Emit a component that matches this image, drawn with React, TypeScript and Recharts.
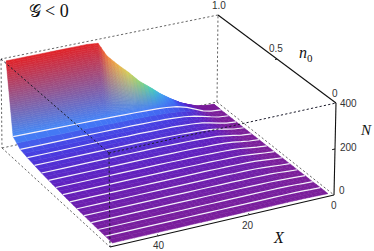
import React from "react";
import { ComposedChart, XAxis, YAxis, Line, Scatter } from "recharts";

const xValues = [1.5, 4, 6, 8, 10, 12.5, 15, 17, 20, 22.5, 25, 27.5, 29.5, 32, 36, 40, 45, 49.5];
const n0Values = [0, 0.0655, 0.131, 0.1965, 0.262, 0.3275, 0.393, 0.4585, 0.524, 0.5895, 0.655, 0.7205, 0.786, 0.8515, 0.917, 0.975];
const surfaceN = [
  [12, 13, 14, 15, 15, 15, 15, 15, 15, 15, 15, 15, 15, 15, 15, 15, 15, 15],
  [12, 13, 15, 16, 16, 16, 16, 16, 16, 16, 16, 16, 16, 16, 16, 16, 16, 16],
  [11, 13, 15, 16, 17, 17, 17, 17, 17, 17, 17, 17, 17, 17, 17, 17, 17, 17],
  [11, 13, 15, 17, 18, 18, 19, 19, 19, 19, 19, 19, 19, 19, 19, 19, 19, 19],
  [10, 13, 16, 18, 19, 20, 20, 21, 21, 21, 21, 21, 21, 21, 21, 21, 21, 21],
  [10, 13, 16, 19, 21, 22, 22, 23, 23, 23, 23, 23, 23, 23, 23, 23, 23, 23],
  [9, 13, 17, 20, 22, 23, 24, 24, 25, 25, 25, 25, 25, 25, 25, 25, 25, 25],
  [9, 13, 17, 21, 24, 25, 26, 27, 27, 28, 28, 28, 28, 28, 28, 28, 28, 28],
  [8, 12, 17, 22, 25, 27, 28, 29, 30, 30, 31, 31, 31, 31, 31, 31, 31, 31],
  [8, 12, 17, 23, 27, 29, 30, 32, 33, 33, 34, 34, 34, 34, 34, 34, 34, 34],
  [7, 11, 18, 24, 29, 32, 34, 35, 36, 37, 38, 38, 38, 38, 38, 38, 38, 38],
  [7, 11, 18, 26, 32, 36, 38, 40, 41, 42, 42, 43, 43, 43, 43, 43, 43, 43],
  [6, 10, 18, 27, 35, 40, 43, 45, 46, 47, 48, 48, 49, 49, 49, 49, 49, 49],
  [6, 10, 19, 29, 38, 45, 49, 51, 53, 54, 55, 55, 56, 56, 57, 57, 57, 57],
  [5, 9, 18, 34, 50, 63, 69, 72, 74, 76, 77, 78, 79, 80, 81, 82, 84, 85],
  [5, 9, 16, 30, 46, 75, 108, 140, 185, 235, 280, 330, 395, 400, 400, 400, 400, 400],
];
const colorStops: [number, number[]][] = [
  [0, [125, 30, 150]],
  [15, [122, 30, 155]],
  [30, [98, 32, 190]],
  [50, [70, 60, 225]],
  [75, [66, 125, 250]],
  [100, [70, 160, 245]],
  [140, [70, 205, 190]],
  [190, [150, 210, 110]],
  [250, [230, 205, 80]],
  [320, [240, 140, 60]],
  [400, [225, 35, 40]],
];
const xTicks = [20, 40];
const nTicks = [200];
const n0Ticks = [0.5];

type P3 = [number, number, number];
const boxBack: [P3, P3][] = [
  [[50, 1, 0], [0, 1, 0]],
  [[0, 1, 0], [0, 1, 400]],
  [[0, 1, 400], [50, 1, 400]],
  [[50, 1, 400], [50, 1, 0]],
  [[0, 1, 0], [0, 0, 0]],
  [[50, 1, 0], [50, 0, 0]],
];
const boxFront: [P3, P3][] = [
  [[50, 1, 400], [50, 0, 400]],
  [[50, 0, 400], [0, 0, 400]],
  [[50, 0, 400], [50, 0, 0]],
];
const axesSolid: [P3, P3][] = [
  [[0, 0, 0], [50, 0, 0]],
  [[0, 0, 0], [0, 0, 400]],
  [[0, 0, 400], [0, 1, 400]],
];

const corners: Record<string, number[]> = {
  "000": [334, 195],
  "100": [110, 247],
  "010": [217, 102],
  "110": [2, 148],
  "001": [336, 103],
  "101": [109, 153],
  "011": [218, 15],
  "111": [1, 59],
};

function project(X: number, n0: number, N: number) {
  const w = X / 50;
  const u = 0.9 * w + 0.1 * w * w;
  const v = n0;
  const h = N / 400;
  let sx = 0;
  let sy = 0;
  for (const a of [0, 1]) for (const b of [0, 1]) for (const c of [0, 1]) {
    const k = (a ? u : 1 - u) * (b ? v : 1 - v) * (c ? h : 1 - h);
    const p = corners[`${a}${b}${c}`];
    sx += k * p[0];
    sy += k * p[1];
  }
  return { sx, sy };
}

function colorOf(N: number): number[] {
  for (let i = 1; i < colorStops.length; i++) {
    const [n1, c1] = colorStops[i];
    const [n0, c0] = colorStops[i - 1];
    if (N <= n1) {
      const t = (N - n0) / (n1 - n0);
      return c0.map((c, k) => c + (c1[k] - c) * t);
    }
  }
  return colorStops[colorStops.length - 1][1];
}

const cells: any[] = [];
for (let j = 0; j < n0Values.length - 1; j++) {
  for (let i = 0; i < xValues.length - 1; i++) {
    const a = project(xValues[i], n0Values[j], surfaceN[j][i]);
    const b = project(xValues[i + 1], n0Values[j], surfaceN[j][i + 1]);
    const c = project(xValues[i + 1], n0Values[j + 1], surfaceN[j + 1][i + 1]);
    const d = project(xValues[i], n0Values[j + 1], surfaceN[j + 1][i]);
    cells.push({
      sx: a.sx,
      sy: a.sy,
      quad: [a, b, c, d],
      cols: [surfaceN[j][i], surfaceN[j][i + 1], surfaceN[j + 1][i + 1], surfaceN[j + 1][i]].map(colorOf),
      ny: j === n0Values.length - 2 ? 36 : 2,
      nx: j === n0Values.length - 2 ? 3 : 2,
    });
  }
}

const bil = (a: number, b: number, c: number, d: number, s: number, t: number) =>
  (1 - t) * ((1 - s) * a + s * b) + t * ((1 - s) * d + s * c);

function CellShape(props: any) {
  const { cx, cy, payload } = props;
  const { quad, cols, nx, ny } = payload;
  const ox = cx - quad[0].sx;
  const oy = cy - quad[0].sy;
  const out: React.ReactNode[] = [];
  const pt = (s: number, t: number) =>
    `${(bil(quad[0].sx, quad[1].sx, quad[2].sx, quad[3].sx, s, t) + ox).toFixed(2)},${(bil(quad[0].sy, quad[1].sy, quad[2].sy, quad[3].sy, s, t) + oy).toFixed(2)}`;
  for (let q = 0; q < ny; q++) {
    for (let r = 0; r < nx; r++) {
      const s0 = r / nx, s1 = (r + 1) / nx, t0 = q / ny, t1 = (q + 1) / ny;
      const sm = (s0 + s1) / 2, tm = (t0 + t1) / 2;
      const col = [0, 1, 2].map((k) => Math.round(bil(cols[0][k], cols[1][k], cols[2][k], cols[3][k], sm, tm)));
      const fill = `rgb(${col[0]},${col[1]},${col[2]})`;
      out.push(
        <polygon key={`${q}-${r}`} points={`${pt(s0, t0)} ${pt(s1, t0)} ${pt(s1, t1)} ${pt(s0, t1)}`} fill={fill} stroke={fill} strokeWidth={0.5} />
      );
    }
  }
  return <g>{out}</g>;
}

const seg = (e: [P3, P3]) => e.map((p) => project(p[0], p[1], p[2]));
const rowLine = (j: number) => xValues.map((x, i) => project(x, n0Values[j], surfaceN[j][i]));
const whiteRows = n0Values.map((_, j) => j).filter((j) => j >= 1 && j <= 14);

const labelFont = "'Liberation Sans', Arial, sans-serif";
const mathFont = "'Liberation Serif', 'DejaVu Serif', serif";
const tickStyle = { fontFamily: labelFont, fontSize: 10, fill: "#333" };

const keep = { isAnimationActive: false, dot: false, activeDot: false, legendType: "none" as const };

export default function App() {
  return (
    <div style={{ position: "absolute", left: 0, top: 0, width: 374, height: 251, background: "#fff" }}>
      <ComposedChart width={374} height={251} margin={{ top: 0, right: 0, bottom: 0, left: 0 }}>
        <XAxis dataKey="sx" type="number" domain={[0, 374]} hide allowDataOverflow />
        <YAxis dataKey="sy" type="number" domain={[0, 251]} reversed hide allowDataOverflow />
        {boxBack.map((e, i) => (
          <Line key={`b${i}`} data={seg(e)} dataKey="sy" stroke="#555" strokeWidth={0.9} strokeDasharray="2.2 2.2" zIndex={100} {...keep} />
        ))}
        <Scatter data={cells} shape={CellShape} isAnimationActive={false} zIndex={200} />
        {whiteRows.map((j) => (
          <Line key={`r${j}`} data={rowLine(j)} dataKey="sy" stroke="#f4f0fa" strokeWidth={1.2} zIndex={300} {...keep} />
        ))}
        {boxFront.map((e, i) => (
          <Line key={`f${i}`} data={seg(e)} dataKey="sy" stroke="#1a1a2a" strokeWidth={1} strokeDasharray="2.2 2.2" zIndex={400} {...keep} />
        ))}
        {axesSolid.map((e, i) => (
          <Line key={`a${i}`} data={seg(e)} dataKey="sy" stroke="#111" strokeWidth={1.1} zIndex={500} {...keep} />
        ))}
        {xTicks.map((x) => (
          <Line key={`xt${x}`} data={[project(x, 0, 0), project(x, 0.012, 0)]} dataKey="sy" stroke="#111" strokeWidth={1} zIndex={500} {...keep} />
        ))}
        {nTicks.map((n) => (
          <Line key={`nt${n}`} data={[project(0, 0, n), project(0.7, 0, n)]} dataKey="sy" stroke="#111" strokeWidth={1} zIndex={500} {...keep} />
        ))}
        {n0Ticks.map((n) => (
          <Line key={`n0t${n}`} data={[project(0, n, 400), project(0.5, n, 400)]} dataKey="sy" stroke="#111" strokeWidth={1} zIndex={500} {...keep} />
        ))}
        <text x={29} y={17} fill="#111">
          <tspan style={{ fontFamily: "'DejaVu Serif', serif", fontSize: 17 }}>𝒢</tspan>
          <tspan dx={4} style={{ fontFamily: mathFont, fontSize: 18 }}>&lt; 0</tspan>
        </text>
        <text x={212} y={9} style={tickStyle}>1.0</text>
        <text x={269} y={52} style={tickStyle}>0.5</text>
        <text x={332} y={97} style={tickStyle}>0</text>
        <text x={340} y={107} style={tickStyle}>400</text>
        <text x={340} y={151} style={tickStyle}>200</text>
        <text x={339} y={194} style={tickStyle}>0</text>
        <text x={331} y={209} style={tickStyle}>0</text>
        <text x={242} y={229} style={tickStyle}>20</text>
        <text x={153} y={249} style={tickStyle}>40</text>
        <text x={299} y={58} style={{ fontFamily: mathFont, fontStyle: "italic", fontSize: 16, fill: "#111" }}>n</text>
        <text x={307} y={62} style={{ fontFamily: mathFont, fontSize: 11, fill: "#111" }}>0</text>
        <text x={361} y={135} style={{ fontFamily: mathFont, fontStyle: "italic", fontSize: 15, fill: "#111" }}>N</text>
        <text x={274} y={243} style={{ fontFamily: mathFont, fontStyle: "italic", fontSize: 16, fill: "#111" }}>X</text>
      </ComposedChart>
    </div>
  );
}
